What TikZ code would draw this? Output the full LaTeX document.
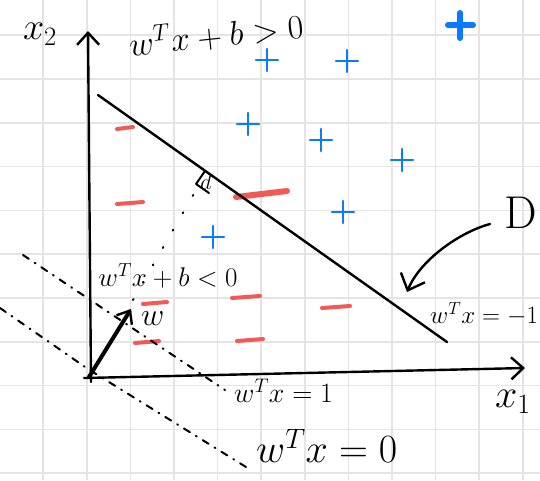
\documentclass[tikz,border=0pt]{standalone}
\usepackage{fix-cm}
\usepackage{amsmath,amssymb}
\usetikzlibrary{arrows.meta, positioning}
\definecolor{penblue}{RGB}{10,122,255}
\definecolor{penred}{RGB}{242,90,85}
\definecolor{gridgray}{RGB}{228,228,228}

\begin{document}
\begin{tikzpicture}[
  x=1pt, y=-1pt,
  every node/.style={inner sep=0pt, text=black},
  pen/.style={draw, line width=2.4pt, line cap=round, line join=round},
  barb/.style={-{Straight Barb[length=12pt, width=22pt, line width=2.4pt]}},
  dashdot/.style={pen, line width=2pt, dash pattern=on 7pt off 7pt on 1pt off 7pt},
  dotline/.style={pen, line width=2pt, dash pattern=on 1pt off 19pt},
  plusmark/.style={penblue, line width=2.6pt, line cap=round},
  minusmark/.style={penred, line width=4pt, line cap=round},
  gridline/.style={gridgray, line width=1.6pt}
]
\useasboundingbox (0,0) rectangle (540,480);
\clip (0,0) rectangle (540,480);
\fill[white] (0,0) rectangle (540,480);
\foreach \k in {1,...,12} \draw[gridline] (43.6*\k-0.5,0) -- (43.6*\k-0.5,480);
\foreach \k in {0,...,10} \draw[gridline] (0,35.2+43.8*\k) -- (540,35.2+43.8*\k);

\coordinate (O) at (89,377);
\coordinate (ystart) at (91,382);
\coordinate (ytop) at (88,31);
\coordinate (xstart) at (84,378);
\coordinate (xend) at (525,368);
\coordinate (wtip) at (131,309);
\coordinate (hypA) at (98,95);
\coordinate (hypB) at (447,342);
\coordinate (zl) at (0,308);
\coordinate (zmid) at (88,369);
\coordinate (zr) at (246,467);
\coordinate (ol) at (23,255);
\coordinate (or) at (225,390);
\coordinate (dstart) at (133,300);
\coordinate (dend) at (196,190);
\coordinate (Dtail) at (490,224);
\coordinate (Dtip) at (407,292);

\foreach \px/\py in {267/60, 347/61, 248/124, 321/140, 402/160, 343/212, 213/237}
  \draw[plusmark] (\px-11,\py) -- (\px+11,\py) (\px,\py-11) -- (\px,\py+11);
\draw[plusmark, line width=6pt] (448,25) -- (473,25) (460,13) -- (460,38);
\foreach \mx/\my/\ml in {125/128/8, 130/203/13, 155/303/12, 147/342/12, 246/297/14, 250/340/13, 336/307/14}
  \draw[minusmark] (\mx-\ml,\my+1) -- (\mx+\ml,\my-1);
\draw[minusmark, line width=6pt] (236,197) -- (287,191);

\draw[pen, barb] (ystart) -- (ytop);
\draw[pen, barb] (xstart) -- (xend);
\draw[pen] (hypA) -- (hypB);
\draw[dashdot] (zl) -- (zmid) -- (zr);
\draw[dashdot] (ol) -- (or);
\draw[dotline] (dstart) -- (dend);
\draw[pen, line width=2pt] (205,171) -- (196,184) -- (209,193);
\draw[pen, line width=4pt, -{Straight Barb[length=11pt, width=18pt, line width=2.4pt]}] (O) -- (wtip);
\draw[pen, -{Straight Barb[length=14pt, width=26pt, line width=2.4pt]}] (Dtail) .. controls (460,232) and (420,260) .. (Dtip);

\node[font=\fontsize{34}{40}\selectfont, rotate=6] (gtz) at (216,34) {$w^Tx+b>0$};
\node[font=\fontsize{38}{42}\selectfont] (xtwo) at (40,34) {$x_2$};
\node[font=\fontsize{40}{44}\selectfont] (xone) at (513,402) {$x_1$};
\node[font=\fontsize{27}{30}\selectfont] (ltz) at (168,276) {$w^Tx+b<0$};
\node[font=\fontsize{32}{36}\selectfont, right=10pt of wtip, yshift=-10pt] (wlab) {$w$};
\node[font=\fontsize{22}{24}\selectfont] (dlab) at (206,182) {$d$};
\node[font=\fontsize{46}{50}\selectfont] (Dlab) at (521,213) {D};
\node[font=\fontsize{25}{30}\selectfont, anchor=west] (mone) at (430,314) {$w^Tx=-1$};
\node[font=\fontsize{28}{30}\selectfont, anchor=west] (pone) at (234,391) {$w^Tx=1$};
\node[font=\fontsize{40}{44}\selectfont, anchor=west] (zero) at (256,446) {$w^Tx=0$};
\end{tikzpicture}
\end{document}
